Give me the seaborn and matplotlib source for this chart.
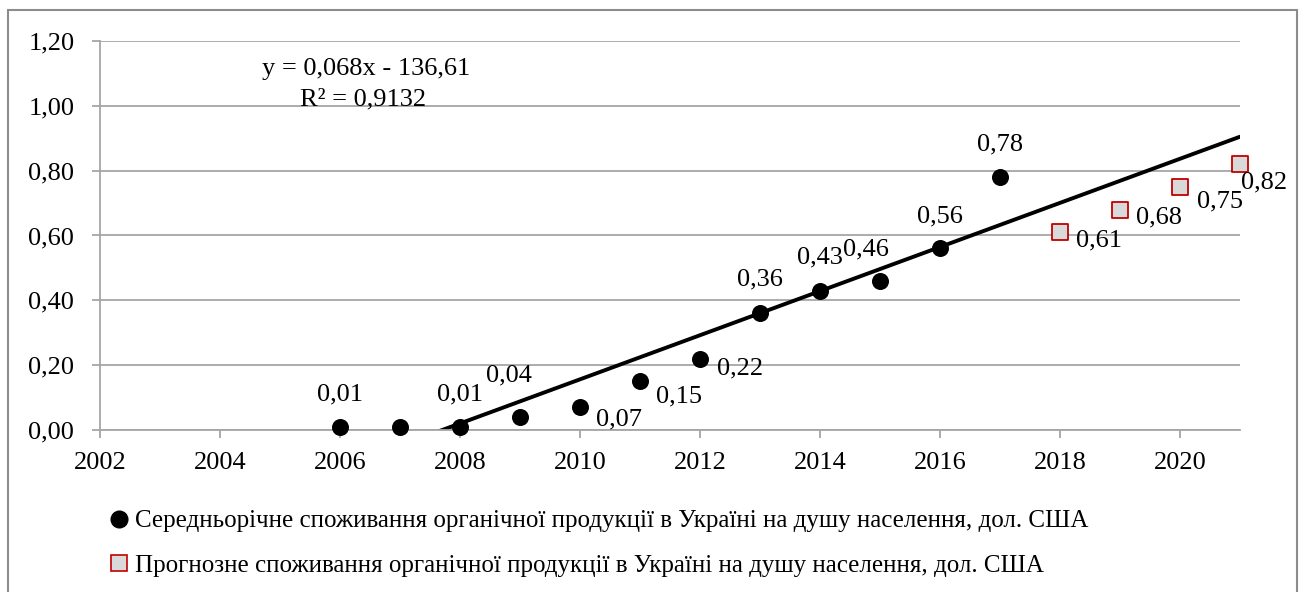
import numpy as np
import pandas as pd
import matplotlib

matplotlib.use("Agg")
import matplotlib.pyplot as plt
import matplotlib.ticker as ticker
from matplotlib.patches import Rectangle
from matplotlib.lines import Line2D
import seaborn as sns

# actual consumption, USD per capita
years = [2006, 2007, 2008, 2009, 2010, 2011, 2012, 2013, 2014, 2015, 2016, 2017]
values = [0.01, 0.01, 0.01, 0.04, 0.07, 0.15, 0.22, 0.36, 0.43, 0.46, 0.56, 0.78]
# forecast
fc_years = [2018, 2019, 2020, 2021]
fc_values = [0.61, 0.68, 0.75, 0.82]

label_actual = "Середньорічне споживання органічної продукції в Україні на душу населення, дол. США"
label_fc = "Прогнозне споживання органічної продукції в Україні на душу населення, дол. США"

# label offsets in points (the 2007 point has no label)
offsets = [(0, 25), None, (0, 25), (-8, 32), (28, -7), (28, -9), (29, -5),
           (0, 26), (0, 26), (-10, 24.5), (0, 25), (0, 25)]
fc_offsets = [(28, -4), (28, -4), (29, -9), (17, -11)]

sns.set_theme(style="white")
plt.rcParams["font.family"] = ["Liberation Serif", "DejaVu Serif"]
plt.rcParams["text.color"] = "black"
plt.rcParams["xtick.labelcolor"] = "black"
plt.rcParams["ytick.labelcolor"] = "black"

GRAY = "#a6a6a6"
FS = 19


def fmt(v):
    return f"{v:.2f}".replace(".", ",")


def main():
    fig = plt.figure(figsize=(13.06, 5.92), dpi=100)
    ax = fig.add_axes([100 / 1306, 1 - 430 / 592, 1140 / 1306, 389 / 592])

    df = pd.DataFrame({"year": years, "value": values})
    df_fc = pd.DataFrame({"year": fc_years, "value": fc_values})

    # linear trend fitted on actual data, extended to 2021
    k, b = np.polyfit(years, values, 1)
    tx = np.array([2006, 2021])
    trend = pd.DataFrame({"year": tx, "value": k * tx + b})
    sns.lineplot(data=trend, x="year", y="value", ax=ax, color="black", lw=2.8, zorder=2)

    sns.scatterplot(data=df, x="year", y="value", ax=ax, color="black", s=150,
                    edgecolor="black", linewidth=0, zorder=3, clip_on=False)
    sns.scatterplot(data=df_fc, x="year", y="value", ax=ax, marker="s", color="#d9d9d9",
                    s=120, edgecolor="#c00000", linewidth=1.3, zorder=3, clip_on=False)

    for x, v, off in zip(years, values, offsets):
        if off is None:
            continue
        ax.annotate(fmt(v), (x, v), xytext=off, textcoords="offset points",
                    ha="center", va="center_baseline", fontsize=FS, annotation_clip=False)
    for x, v, off in zip(fc_years, fc_values, fc_offsets):
        ax.annotate(fmt(v), (x, v), xytext=off, textcoords="offset points",
                    ha="center", va="center_baseline", fontsize=FS, annotation_clip=False)

    ax.text(2006.43, 1.12, "y = 0,068x - 136,61", ha="center", va="center_baseline", fontsize=FS)
    ax.text(2006.38, 1.028, "R² = 0,9132", ha="center", va="center_baseline", fontsize=FS)

    ax.set_xlim(2002, 2021)
    ax.set_ylim(0, 1.2)
    ax.xaxis.set_major_locator(ticker.MultipleLocator(2))
    ax.yaxis.set_major_locator(ticker.MultipleLocator(0.2))
    ax.yaxis.set_major_formatter(ticker.FuncFormatter(lambda v, p: fmt(v)))
    ax.set_xlabel("")
    ax.set_ylabel("")
    ax.grid(axis="y", color=GRAY, lw=1.3)
    ax.set_axisbelow(True)
    for s in ["top", "right"]:
        ax.spines[s].set_visible(False)
    for s in ["left", "bottom"]:
        ax.spines[s].set_color(GRAY)
        ax.spines[s].set_linewidth(1.3)
    ax.tick_params(axis="both", direction="out", length=6, width=1.3, color=GRAY,
                   labelsize=FS, labelcolor="black")
    ax.tick_params(axis="x", pad=10)
    ax.tick_params(axis="y", pad=12.5)
    ax.tick_params(bottom=True, left=True)

    handles = [
        Line2D([], [], ls="", marker="o", color="black", markersize=12),
        Line2D([], [], ls="", marker="s", markerfacecolor="#d9d9d9",
               markeredgecolor="#c00000", markersize=11, markeredgewidth=1.2),
    ]
    fig.legend(handles, [label_actual, label_fc], loc="center left",
               bbox_to_anchor=(96 / 1306, 1 - 543.5 / 592), frameon=False,
               fontsize=18, handlelength=0.8, handletextpad=0.25,
               labelspacing=0.89, borderpad=0)

    fig.patches.append(Rectangle((8 / 1306, -0.05), 1289 / 1306, 1 - 10 / 592 + 0.05,
                                 transform=fig.transFigure, fill=False,
                                 edgecolor="#8c8c8c", lw=1.5))

    fig.savefig("out.png", dpi=100, facecolor="w", edgecolor="w")
    plt.close()


if __name__ == "__main__":
    main()
